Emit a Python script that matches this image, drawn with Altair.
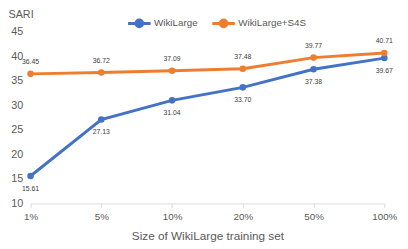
import altair as alt
import pandas as pd

sizes = ["1%", "5%", "10%", "20%", "50%", "100%"]
wikilarge = [15.61, 27.13, 31.04, 33.70, 37.38, 39.67]
s4s = [36.45, 36.72, 37.09, 37.48, 39.77, 40.71]
series_names = ["WikiLarge", "WikiLarge+S4S"]
colors = ["#4472C4", "#ED7D31"]
y_ticks = [10, 15, 20, 25, 30, 35, 40, 45]

rows = []
for s, v in zip(sizes, wikilarge):
    rows.append({"size": s, "sari": v, "series": series_names[0]})
for s, v in zip(sizes, s4s):
    rows.append({"size": s, "sari": v, "series": series_names[1]})
df = pd.DataFrame(rows)

FONT = "Liberation Sans Narrow, Liberation Sans, sans-serif"

x = alt.X("size:N", sort=sizes, scale=alt.Scale(padding=0),
          axis=alt.Axis(title="Size of WikiLarge training set", labelAngle=0,
                        labelFontSize=10, labelColor="#595959", labelPadding=4,
                        domainColor="#D9D9D9", tickColor="#D9D9D9", tickSize=4,
                        titleFontSize=12, titleColor="#595959", titleFontWeight="normal",
                        titlePadding=10, labelFont=FONT, titleFont=FONT))
y = alt.Y("sari:Q", scale=alt.Scale(domain=[10, 45], nice=False),
          axis=alt.Axis(title="SARI", values=y_ticks, labelOverlap=False,
                        grid=False, domain=False, ticks=False, labelFontSize=11,
                        labelColor="#595959", labelPadding=8, labelFont=FONT,
                        titleAngle=0, titleX=-23, titleY=-15, titleAlign="left",
                        titleBaseline="alphabetic", titleFontSize=11, titleFont=FONT,
                        titleFontWeight="normal", titleColor="#595959"))
color = alt.Color("series:N", scale=alt.Scale(domain=series_names, range=colors),
                  legend=alt.Legend(title=None, orient="none", direction="horizontal",
                                    legendX=98, legendY=-22,
                                    symbolType="M-1,0H1M-0.3,0A0.3,0.3 0 1,0 0.3,0A0.3,0.3 0 1,0 -0.3,0",
                                    symbolSize=529, symbolStrokeWidth=3,
                                    labelFontSize=10, labelColor="#595959", labelFont=FONT,
                                    columnPadding=8, labelOffset=2))

base = alt.Chart(df)
lines = base.mark_line(strokeWidth=3, point=alt.OverlayMarkDef(size=45, filled=True, opacity=1)).encode(
    x=x, y=y, color=color)

text_top = base.transform_filter(alt.datum.series == series_names[1]).mark_text(
    fontSize=7, color="#404040", dy=-12, font=FONT).encode(
    x=x, y=y, text=alt.Text("sari:Q", format=".2f"))
text_bot = base.transform_filter(alt.datum.series == series_names[0]).mark_text(
    fontSize=7, color="#404040", dy=13, font=FONT).encode(
    x=x, y=y, text=alt.Text("sari:Q", format=".2f"))

chart = alt.layer(lines, text_top, text_bot).properties(
    width=361, height=175,
    autosize=alt.AutoSizeParams(type="none"),
    padding={"left": 23, "top": 22, "right": 16, "bottom": 44},
).configure_view(stroke=None)

chart.save("out.html", embed_options={"renderer": "svg", "actions": False})
